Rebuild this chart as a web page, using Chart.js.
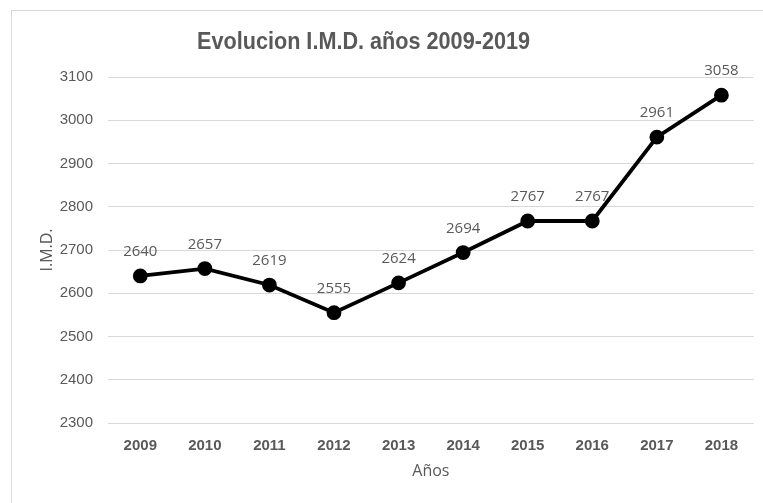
<!DOCTYPE html>
<html>
<head>
<meta charset="utf-8">
<script src="https://cdn.jsdelivr.net/npm/chart.js@4"></script>
<style>
  html, body { margin: 0; padding: 0; background: #fff; }
  .frame { position: absolute; left: 11px; top: 10px; width: 760px; height: 500px;
           border-left: 1px solid #d9d9d9; border-top: 1px solid #d9d9d9; }
  .wrap { position: absolute; left: 0; top: 0; width: 763px; height: 503px; }
</style>
</head>
<body>
<div class="frame"></div>
<div class="wrap"><canvas id="imdChart" width="763" height="503"></canvas></div>
<script>
// Data
const years = ['2009', '2010', '2011', '2012', '2013', '2014', '2015', '2016', '2017', '2018'];
const imdValues = [2640, 2657, 2619, 2555, 2624, 2694, 2767, 2767, 2961, 3058];
const yTicks = [2300, 2400, 2500, 2600, 2700, 2800, 2900, 3000, 3100];
const chartTitle = 'Evolucion I.M.D. años 2009-2019';

const textGray = '#595959';
const sans = '"Liberation Sans", Arial, sans-serif';

// Title in a condensed look (the original uses a narrow face)
const narrowTitle = {
  id: 'narrowTitle',
  afterDraw(chart) {
    const ctx = chart.ctx;
    ctx.save();
    ctx.font = 'bold 23px ' + sans;
    ctx.fillStyle = textGray;
    ctx.textAlign = 'center';
    ctx.textBaseline = 'alphabetic';
    const w = ctx.measureText(chartTitle).width;
    const sx = 333 / w;
    ctx.translate(363.5, 48.5);
    ctx.scale(sx, 1);
    ctx.fillText(chartTitle, 0, 0);
    ctx.restore();
  }
};

// Draws the value above each point
const valueLabels = {
  id: 'valueLabels',
  afterDatasetsDraw(chart) {
    const ctx = chart.ctx;
    const meta = chart.getDatasetMeta(0);
    ctx.save();
    ctx.font = '15px "Open Sans", sans-serif';
    ctx.fillStyle = textGray;
    ctx.textAlign = 'center';
    ctx.textBaseline = 'middle';
    meta.data.forEach((pt, i) => {
      ctx.fillText(String(imdValues[i]), pt.x, pt.y - 24);
    });
    ctx.restore();
  }
};

new Chart(document.getElementById('imdChart'), {
  type: 'line',
  data: {
    labels: years,
    datasets: [{
      data: imdValues,
      borderColor: '#000',
      backgroundColor: '#000',
      borderWidth: 3.8,
      pointRadius: 5.5,
      pointHoverRadius: 5.5,
      tension: 0
    }]
  },
  options: {
    responsive: false,
    animation: false,
    devicePixelRatio: 1,
    layout: { padding: { left: 0, right: 8, top: 77, bottom: 0 } },
    plugins: {
      legend: { display: false },
      tooltip: { enabled: false },
      title: { display: false }
    },
    scales: {
      x: {
        offset: true,
        afterFit(scale) { scale.height = 80; },
        grid: { display: false, drawTicks: false },
        border: { display: false },
        ticks: {
          color: textGray,
          padding: 14,
          autoSkip: false,
          maxRotation: 0,
          font: { family: sans, size: 15, weight: 'bold' }
        },
        title: {
          display: true,
          text: 'Años',
          color: textGray,
          font: { family: '"Open Sans", sans-serif', size: 16 },
          padding: { top: 0, bottom: 22 }
        }
      },
      y: {
        min: 2300,
        max: 3100,
        afterBuildTicks(scale) {
          scale.ticks = yTicks.map(v => ({ value: v }));
        },
        afterFit(scale) { scale.width = 108; },
        grid: { color: '#d9d9d9', lineWidth: 1, drawTicks: false },
        border: { display: false },
        ticks: {
          color: textGray,
          padding: 15,
          callback: v => String(v),
          font: { family: sans, size: 15 }
        },
        title: {
          display: true,
          text: 'I.M.D.',
          color: textGray,
          font: { family: '"Open Sans", sans-serif', size: 16 },
          padding: { top: 38, bottom: 0 }
        }
      }
    }
  },
  plugins: [valueLabels, narrowTitle]
});
</script>
</body>
</html>
